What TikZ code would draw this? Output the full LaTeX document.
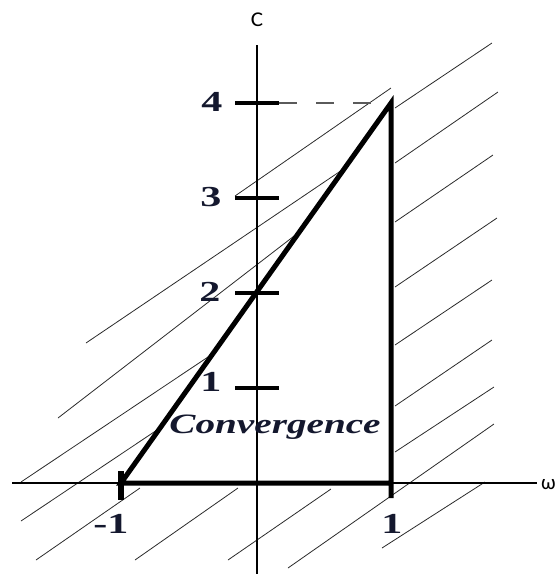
\documentclass[tikz,border=0pt]{standalone}
\usepackage{fontspec}
\usepackage{graphicx}
\newfontfamily\carlito{Carlito}
\newfontfamily\timesl{Liberation Serif}
\definecolor{ink}{HTML}{14182E}
\definecolor{hatch}{HTML}{2A2A2A}
\definecolor{dashc}{HTML}{5A5A5A}
\begin{document}
\begin{tikzpicture}[x=1pt,y=-1pt,
  axisline/.style={line width=1.3pt,black},
  tickmark/.style={line width=4.5pt,black},
  thickline/.style={line width=5pt,black,line join=miter},
  hatchline/.style={line width=0.8pt,hatch},
  dashline/.style={line width=2pt,dashc,dash pattern=on 18pt off 19pt},
  numlab/.style={font=\timesl\fontsize{29}{29}\selectfont\bfseries,text=ink,inner sep=0pt},
  axlab/.style={font=\carlito\fontsize{21}{21}\selectfont,inner sep=0pt},
  convlab/.style={font=\timesl\fontsize{28}{28}\selectfont\bfseries\itshape,text=ink,inner sep=0pt}]
\useasboundingbox (0,0) rectangle (557,574);
% hatch lines
\draw[hatchline] (235,196) -- (391,88);
\draw[hatchline] (86,343) -- (345,168);
\draw[hatchline] (58,418) -- (298,233);
\draw[hatchline] (21,482) -- (211,355);
\draw[hatchline] (21,521) -- (160,428);
\draw[hatchline] (36,560) -- (140,488);
\draw[hatchline] (135,560) -- (238,488);
\draw[hatchline] (228,560) -- (331,489);
\draw[hatchline] (288,568) -- (494,424);
\draw[hatchline] (382,548) -- (485,482);
\draw[hatchline] (395,108) -- (492,43);
\draw[hatchline] (395,163) -- (498,92);
\draw[hatchline] (395,222) -- (493,155);
\draw[hatchline] (395,287) -- (497,218);
\draw[hatchline] (395,345) -- (492,280);
\draw[hatchline] (395,406) -- (492,340);
\draw[hatchline] (395,452) -- (494,387);
% axes
\coordinate (ytop) at (257,45);
\coordinate (ybot) at (257,574);
\coordinate (xl) at (12,483);
\coordinate (xr) at (537,483);
\draw[axisline] (ytop) -- (ybot);
\draw[axisline] (xl) -- (xr);
\node[axlab] (clab) at (257,20) {\scalebox{1.1}[1]{C}};
\node[axlab,anchor=west] (wlab) at (541,485) {ω};
% ticks
\coordinate (t4l) at (235,103); \coordinate (t4r) at (279,103);
\coordinate (t3l) at (235,198); \coordinate (t3r) at (279,198);
\coordinate (t2l) at (235,293); \coordinate (t2r) at (279,293);
\coordinate (t1l) at (235,388); \coordinate (t1r) at (279,388);
\draw[tickmark] (t4l) -- (t4r);
\draw[tickmark] (t3l) -- (t3r);
\draw[tickmark] (t2l) -- (t2r);
\draw[tickmark] (t1l) -- (t1r);
\node[numlab] (n4) at (212,102) {\scalebox{1.45}[1]{4}};
\node[numlab] (n3) at (211,197) {\scalebox{1.45}[1]{3}};
\node[numlab] (n2) at (210,292) {\scalebox{1.45}[1]{2}};
\node[numlab] (n1) at (211,382) {\scalebox{1.45}[1]{1}};
% triangle
\coordinate (A) at (121,483);
\coordinate (B) at (391,483);
\coordinate (C) at (391,103);
\coordinate (Ab) at (121,500);
\coordinate (At) at (121,471);
\coordinate (Bb) at (391,498);
\draw[dashline] (t4r) -- (C);
\draw[thickline] (Bb) -- (C) -- (A) -- (B);
\draw[line width=6pt] (At) -- (Ab);
\node[numlab] (nm1) at (111,524) {\scalebox{1.45}[1]{-1}};
\node[numlab] (np1) at (392,524) {\scalebox{1.45}[1]{1}};
\node[convlab] (conv) at (275,427) {\scalebox{1.4}[1]{Convergence}};
\end{tikzpicture}
\end{document}
